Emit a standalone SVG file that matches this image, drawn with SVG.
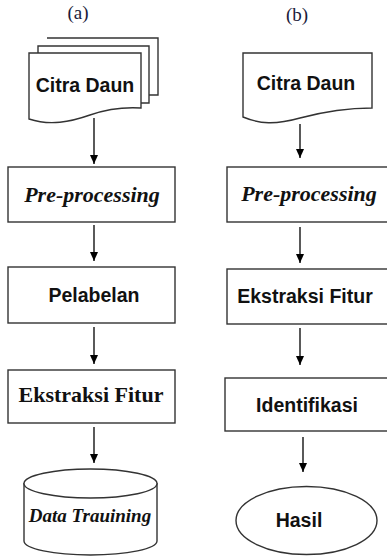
<svg xmlns="http://www.w3.org/2000/svg" width="387" height="556" viewBox="0 0 387 556">
<defs>
<marker id="ah" markerUnits="userSpaceOnUse" markerWidth="10" markerHeight="8" refX="9" refY="4" orient="auto">
<path d="M0,0 L9,4 L0,8 Z" fill="#000"/>
</marker>
<style>
.sh{fill:#fff;stroke:#333;stroke-width:1.4}
.sans{font-family:"Liberation Sans",Arial,sans-serif;font-weight:bold;font-size:19.5px;fill:#111;text-anchor:middle}
.serif{font-family:"Liberation Serif","Times New Roman",serif;font-weight:bold;fill:#111;text-anchor:middle}
.lbl{font-family:"Liberation Serif","Times New Roman",serif;font-size:19px;fill:#1a1a3a;text-anchor:middle}
.ar{stroke:#000;stroke-width:1.3;fill:none;marker-end:url(#ah)}
</style>
</defs>
<rect width="387" height="556" fill="#fff"/>
<text class="lbl" x="78" y="19">(a)</text>
<text class="lbl" x="297" y="21">(b)</text>

<g id="a-citra">
<path class="sh" d="M47,38 H158 V95 H149"/>
<path class="sh" d="M38,53 V46 H149 V103 H141"/>
<path class="sh" d="M29,53 H141 V108 C125,107 110,108 90,115 C70,122 50,126 29,119 Z"/>
<text class="sans" x="85" y="92">Citra Daun</text>
</g>
<g id="a-pre">
<rect class="sh" x="8" y="167" width="167" height="55"/>
<text class="serif" x="92" y="202" font-size="22" font-style="italic">Pre-processing</text>
</g>
<g id="a-label">
<rect class="sh" x="8" y="267" width="167" height="56"/>
<text class="sans" x="94" y="302">Pelabelan</text>
</g>
<g id="a-ekstraksi">
<rect class="sh" x="8" y="370" width="167" height="53"/>
<text class="serif" x="91" y="402" font-size="22">Ekstraksi Fitur</text>
</g>
<g id="a-data">
<path class="sh" d="M24,483 V541 A66.5,14 0 0 0 157,541 V483"/>
<ellipse class="sh" cx="90.5" cy="483.5" rx="66.5" ry="14.5"/>
<text class="serif" x="90" y="522" font-size="19" font-style="italic">Data Trauining</text>
</g>

<g id="b-citra">
<path class="sh" d="M243,53 H372 V108 C350,108 330,110 300,118 C275,125 260,124 243,117 Z"/>
<text class="sans" x="306" y="90">Citra Daun</text>
</g>
<g id="b-pre">
<rect class="sh" x="227" y="167" width="170" height="55"/>
<text class="serif" x="309" y="201" font-size="22" font-style="italic">Pre-processing</text>
</g>
<g id="b-ekstraksi">
<rect class="sh" x="227" y="269" width="170" height="55"/>
<text class="sans" x="305" y="303">Ekstraksi Fitur</text>
</g>
<g id="b-ident">
<rect class="sh" x="225" y="378" width="172" height="53"/>
<text class="sans" x="307" y="412">Identifikasi</text>
</g>
<g id="b-hasil">
<ellipse class="sh" cx="306.5" cy="520.5" rx="70.5" ry="34"/>
<text class="sans" x="299" y="527">Hasil</text>
</g>

<g id="connectors">
<line class="ar" x1="94" y1="118" x2="94" y2="164"/>
<line class="ar" x1="94" y1="225" x2="94" y2="261"/>
<line class="ar" x1="94" y1="327" x2="94" y2="364"/>
<line class="ar" x1="94" y1="427" x2="94" y2="463"/>
<line class="ar" x1="300" y1="124" x2="300" y2="158"/>
<line class="ar" x1="300" y1="227" x2="300" y2="263"/>
<line class="ar" x1="300" y1="328" x2="300" y2="365"/>
<line class="ar" x1="303" y1="437" x2="303" y2="472"/>
</g>
</svg>
